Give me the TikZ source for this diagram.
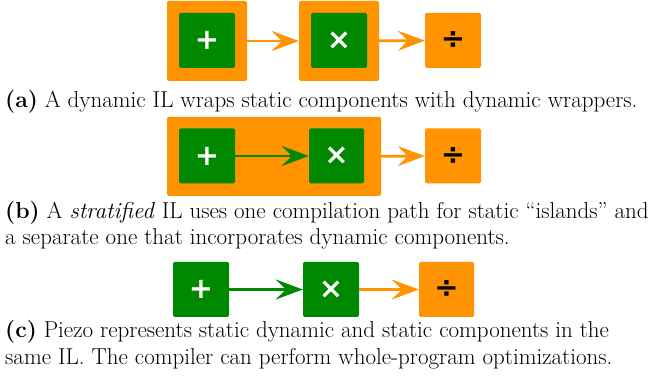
\documentclass[tikz,border=0pt]{standalone}
\usepackage{fontspec}
\newfontfamily\opfont{DejaVu Sans}
\usepackage{xcolor}
\usetikzlibrary{arrows.meta}

\definecolor{dynorange}{RGB}{255,147,0}
\definecolor{statgreen}{RGB}{0,137,0}

\tikzset{
  wrapbox/.style={fill=dynorange, rounded corners=1.5pt, inner sep=0pt},
  statbox/.style={fill=statgreen, rounded corners=1.5pt, minimum width=56pt, minimum height=55pt, inner sep=0pt, text=white, font=\opfont\bfseries\fontsize{29}{29}\selectfont},
  dynbox/.style={fill=dynorange, rounded corners=1.5pt, minimum width=56pt, minimum height=55pt, inner sep=0pt, text=black, font=\opfont\bfseries\fontsize{29}{29}\selectfont},
  dynarrow/.style={draw=dynorange, line width=2.8pt, -{Stealth[length=27pt, width=20pt, inset=10pt]}},
  statarrow/.style={draw=statgreen, line width=2.8pt, -{Stealth[length=27pt, width=20pt, inset=10pt]}},
  caption/.style={anchor=west, align=left, inner sep=0pt, font=\fontsize{23}{26.5}\selectfont}
}

\begin{document}
\begin{tikzpicture}[x=1pt, y=-1pt]
        \useasboundingbox (0,0) rectangle (649,379);

        % (a) dinamico
        \node[wrapbox, minimum width=80pt, minimum height=80pt] (wrapA1) at (207,41) {};
        \node[wrapbox, minimum width=80pt, minimum height=80pt] (wrapA2) at (339,41) {};
        \node[statbox] (plusA) at (207,40.5) {+};
        \node[statbox] (timesA) at (339,40.5) {×};
        \node[dynbox] (divA) at (453,40.5) {÷};
        \draw[dynarrow] (wrapA1) -- (wrapA2);
        \draw[dynarrow] (wrapA2) -- (divA);
        \node[caption] (capA) at (5,102) {\textbf{(a)} A dynamic IL wraps static components with dynamic wrappers.};

        % (b) stratificato
        \node[wrapbox, minimum width=214pt, minimum height=79pt] (wrapB) at (274,156.5) {};
        \node[statbox] (plusB) at (207,156) {+};
        \node[statbox, minimum width=55pt] (timesB) at (336.5,156) {×};
        \node[dynbox] (divB) at (453,156) {÷};
        \draw[statarrow] (plusB) -- (timesB);
        \draw[dynarrow] (wrapB) -- (divB);
        \node[caption] (capB) at (5,225) {\textbf{(b)} A \textit{stratified} IL uses one compilation path for static “islands” and\\a separate one that incorporates dynamic components.};

        % (c) Piezo
        \node[statbox] (plusC) at (201,289.5) {+};
        \node[statbox] (timesC) at (331,289.5) {×};
        \node[dynbox, minimum width=55pt] (divC) at (446.5,289.5) {÷};
        \draw[statarrow] (plusC) -- (timesC);
        \draw[dynarrow] (timesC) -- (divC);
        \node[caption] (capC) at (5,344.5) {\textbf{(c)} Piezo represents static dynamic and static components in the\\same IL. The compiler can perform whole-program optimizations.};
    \end{tikzpicture}
\end{document}
